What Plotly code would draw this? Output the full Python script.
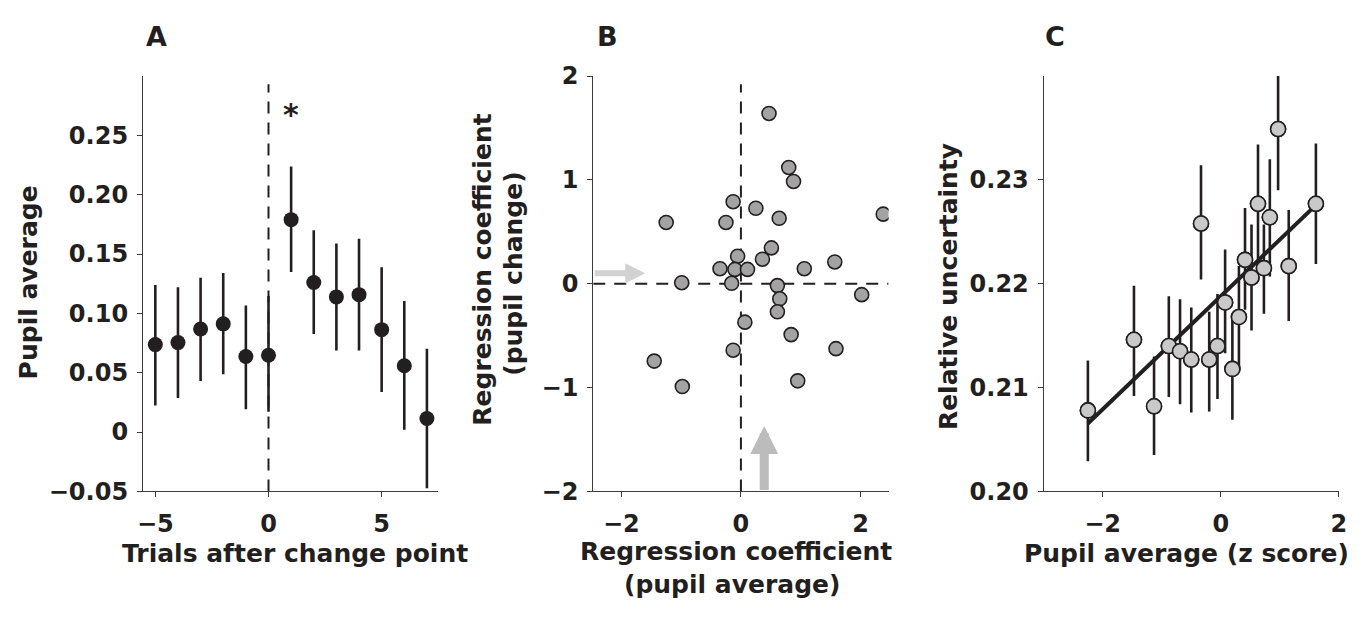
import numpy as np
import plotly.graph_objects as go

# ---------------- Data ----------------
# Panel A: pupil average vs trials after change point
trials = [-5, -4, -3, -2, -1, 0, 1, 2, 3, 4, 5, 6, 7]
pupil_mean = [0.0737, 0.0754, 0.0869, 0.0912, 0.0637, 0.0648, 0.179, 0.126, 0.1139, 0.1158, 0.0863, 0.0559, 0.0114]
pupil_hi = [0.124, 0.122, 0.130, 0.134, 0.1067, 0.1147, 0.2237, 0.170, 0.159, 0.163, 0.1388, 0.1104, 0.0702]
pupil_lo = [0.0224, 0.0287, 0.043, 0.0487, 0.0192, 0.0172, 0.1348, 0.0826, 0.0688, 0.0688, 0.0338, 0.002, -0.0473]
star_trial, star_y = 1, 0.273

# Panel B: regression coefficients per subject
coef_avg = [0.47, 0.80, 0.88, -0.13, 0.25, 0.64, -1.25, -0.25, 2.38, 0.51, -0.055, 0.36, -0.35, -0.10, 0.11,
            1.06, 1.57, -0.99, -0.155, 0.61, 0.65, 0.61, 2.02, 0.066, 0.84, -0.13, 1.59, -1.45, -0.98, 0.95]
coef_change = [1.64, 1.12, 0.985, 0.79, 0.727, 0.63, 0.59, 0.59, 0.67, 0.345, 0.265, 0.236, 0.145, 0.138, 0.138,
               0.145, 0.21, 0.01, 0.004, -0.018, -0.145, -0.27, -0.105, -0.37, -0.49, -0.64, -0.625, -0.745, -0.99, -0.935]
mean_coef_avg = 0.39
mean_coef_change = 0.10

# Panel C: relative uncertainty vs pupil average (z score)
z_pupil = [-2.25, -1.47, -1.13, -0.88, -0.69, -0.50, -0.335, -0.196, -0.056, 0.073, 0.196, 0.307, 0.41, 0.52,
           0.63, 0.73, 0.83, 0.97, 1.15, 1.61]
rel_unc = [0.2078, 0.2146, 0.2082, 0.2140, 0.2135, 0.2127, 0.2258, 0.2127, 0.2140, 0.2182, 0.2118, 0.2168, 0.2223,
           0.2206, 0.2277, 0.2215, 0.2264, 0.2349, 0.2217, 0.2277]
rel_hi = [0.2126, 0.2198, 0.2130, 0.2188, 0.2185, 0.2177, 0.2314, 0.2173, 0.2190, 0.2233, 0.2166, 0.2217, 0.2273,
          0.2257, 0.2334, 0.2257, 0.2320, 0.2400, 0.2271, 0.2335]
rel_lo = [0.2029, 0.2092, 0.2035, 0.2091, 0.2084, 0.2076, 0.2204, 0.2077, 0.2089, 0.2133, 0.2069, 0.2119, 0.2175,
          0.2155, 0.2218, 0.2171, 0.2207, 0.2290, 0.2164, 0.2219]
fit_slope = 0.00545
fit_intercept = 0.2188

# ---------------- Style ----------------
W, H = 1370, 620
INK = "#231f20"
AX = "#3c3c3c"
FONT = "DejaVu Sans"
FS = 24       # tick labels
FT = 25       # axis titles

def px_x(p):
    return p / W

def px_y(p):
    return 1 - p / H

fig = go.Figure()

# ----- Panel A -----
fig.add_trace(go.Scatter(x=[0, 0], y=[-0.05, 0.293], mode="lines",
                         line=dict(color=INK, width=2, dash="12px,9px"),
                         xaxis="x", yaxis="y", hoverinfo="skip"))
fig.add_trace(go.Scatter(
    x=trials, y=pupil_mean, mode="markers",
    marker=dict(size=15, color=INK, line=dict(width=0)),
    error_y=dict(type="data", symmetric=False,
                 array=[h - m for h, m in zip(pupil_hi, pupil_mean)],
                 arrayminus=[m - l for l, m in zip(pupil_lo, pupil_mean)],
                 thickness=2.6, width=0, color=INK),
    xaxis="x", yaxis="y"))

# ----- Panel B -----
fig.add_trace(go.Scatter(x=[0, 0], y=[-2, 1.92], mode="lines",
                         line=dict(color=INK, width=2, dash="12px,9px"),
                         xaxis="x2", yaxis="y2", hoverinfo="skip"))
fig.add_trace(go.Scatter(x=[-2.47, 2.47], y=[0, 0], mode="lines",
                         line=dict(color=INK, width=2, dash="12px,9px"),
                         xaxis="x2", yaxis="y2", hoverinfo="skip"))
fig.add_trace(go.Scatter(
    x=coef_avg, y=coef_change, mode="markers",
    marker=dict(size=14, color="#a3a3a3", line=dict(width=1.6, color=INK)),
    xaxis="x2", yaxis="y2"))

# ----- Panel C -----
xfit = np.array([min(z_pupil), max(z_pupil)])
fig.add_trace(go.Scatter(
    x=z_pupil, y=rel_unc, mode="markers",
    marker=dict(size=15, color="#c9c9c9", line=dict(width=1.6, color=INK)),
    error_y=dict(type="data", symmetric=False,
                 array=[h - m for h, m in zip(rel_hi, rel_unc)],
                 arrayminus=[m - l for l, m in zip(rel_lo, rel_unc)],
                 thickness=2.6, width=0, color=INK),
    xaxis="x3", yaxis="y3"))
fig.add_trace(go.Scatter(x=xfit, y=fit_intercept + fit_slope * xfit, mode="lines",
                         line=dict(color=INK, width=4), xaxis="x3", yaxis="y3", hoverinfo="skip"))
# redraw markers on top of the line
fig.add_trace(go.Scatter(
    x=z_pupil, y=rel_unc, mode="markers",
    marker=dict(size=15, color="#c9c9c9", line=dict(width=1.6, color=INK)),
    xaxis="x3", yaxis="y3"))

axis_common = dict(showline=True, linecolor=AX, linewidth=1, ticks="outside", ticklen=5, tickwidth=1,
                   tickcolor=AX, showgrid=False, zeroline=False,
                   tickfont=dict(family=FONT, size=FS, color=INK, weight="bold"))

ydom = [px_y(500), px_y(65)]
fig.update_layout(
    width=W, height=H, margin=dict(l=0, r=0, t=0, b=0),
    paper_bgcolor="white", plot_bgcolor="white", showlegend=False,
    font=dict(family=FONT, size=FS, color=INK, weight="bold"),
    xaxis=dict(domain=[px_x(138.3), px_x(436.7)], range=[-5.55, 7.5], anchor="y",
               tickvals=[-5, 0, 5], ticktext=["\u22125", "0", "5"], ticklabelstandoff=6, **axis_common),
    yaxis=dict(domain=ydom, range=[-0.05, 0.30], anchor="x",
               tickvals=[-0.05, 0, 0.05, 0.10, 0.15, 0.20, 0.25],
               ticktext=["\u22120.05", "0", "0.05", "0.10", "0.15", "0.20", "0.25"], ticklabelstandoff=4,
               **axis_common),
    xaxis2=dict(domain=[px_x(593.3), px_x(891.7)], range=[-2.47, 2.47], anchor="y2",
                tickvals=[-2, 0, 2], ticktext=["\u22122", "0", "2"], ticklabelstandoff=6, **axis_common),
    yaxis2=dict(domain=ydom, range=[-2, 2], anchor="x2",
                tickvals=[-2, -1, 0, 1, 2], ticktext=["\u22122", "\u22121", "0", "1", "2"], ticklabelstandoff=4,
                **axis_common),
    xaxis3=dict(domain=[px_x(1048.3), px_x(1346.7)], range=[-3, 2], anchor="y3",
                tickvals=[-2, 0, 2], ticktext=["\u22122", "0", "2"], ticklabelstandoff=6, **axis_common),
    yaxis3=dict(domain=ydom, range=[0.20, 0.24], anchor="x3",
                tickvals=[0.20, 0.21, 0.22, 0.23], ticktext=["0.20", "0.21", "0.22", "0.23"], ticklabelstandoff=4,
                **axis_common),
)

annos = []

def paper_text(text, x, y, angle=0, size=FT):
    annos.append(dict(text=text, x=px_x(x), y=px_y(y), xref="paper", yref="paper", showarrow=False,
                      xanchor="center", yanchor="middle", textangle=angle,
                      font=dict(family=FONT, size=size, color=INK, weight="bold")))

# panel letters
paper_text("A", 151.7, 24, size=27)
paper_text("B", 607.5, 24, size=27)
paper_text("C", 1060, 24, size=27)
# axis titles
paper_text("Trials after change point", 292, 565)
paper_text("Pupil average", 22.3, 281, angle=-90)
paper_text("Regression coefficient", 738, 563)
paper_text("(pupil average)", 734, 598)
paper_text("Regression coefficient", 481.7, 268, angle=-90)
paper_text("(pupil change)", 513.3, 272, angle=-90)
paper_text("Pupil average (z score)", 1192.5, 565)
paper_text("Relative uncertainty", 951.7, 285, angle=-90)

# asterisk in panel A
annos.append(dict(text="*", x=star_trial, y=star_y, xref="x", yref="y", showarrow=False,
                  xanchor="center", yanchor="middle", yshift=-6,
                  font=dict(family=FONT, size=30, color=INK, weight="bold")))

# mean arrows in panel B
annos.append(dict(x=-1.60, y=mean_coef_change, ax=-2.47, ay=mean_coef_change, xref="x2", yref="y2",
                  axref="x2", ayref="y2", showarrow=True, arrowhead=2, arrowsize=0.67, arrowwidth=6,
                  arrowcolor="#d2d2d2", standoff=0, text=""))
annos.append(dict(x=mean_coef_avg, y=-1.37, ax=mean_coef_avg, ay=-2, xref="x2", yref="y2",
                  axref="x2", ayref="y2", showarrow=True, arrowhead=2, arrowsize=0.62, arrowwidth=9,
                  arrowcolor="#bcbcbc", standoff=0, text=""))

fig.update_layout(annotations=annos)
fig.write_html("out.html")
